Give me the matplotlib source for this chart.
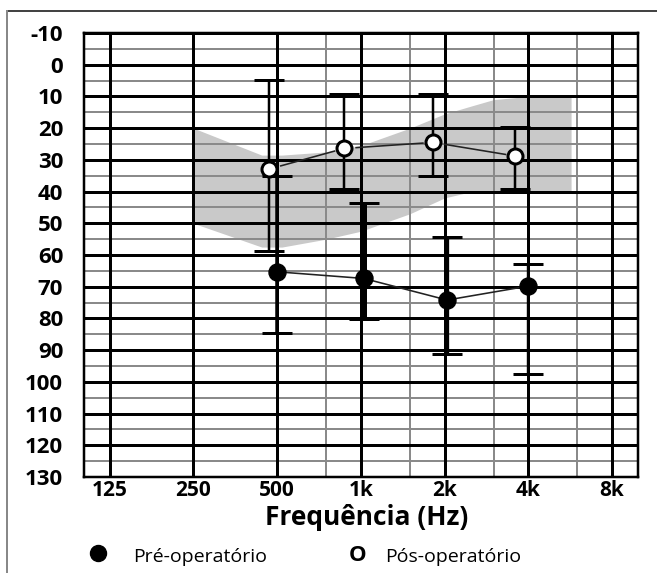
import numpy as np
import matplotlib.pyplot as plt
from matplotlib.lines import Line2D

freqs = [500, 1000, 2000, 4000]
pre_mean = [65.3, 67.4, 74.2, 69.8]
pre_top = [35.1, 43.6, 54.4, 62.9]
pre_bottom = [84.6, 80.3, 91.3, 97.6]
post_mean = [32.9, 26.4, 24.5, 28.8]
post_top = [4.8, 9.2, 9.2, 19.6]
post_bottom = [58.7, 39.2, 35.1, 39.2]

# faixa cinza
band_freq = [250, 440, 520, 750, 1000, 1500, 2000, 2500, 3000, 4000, 5700]
band_top = [20, 28.5, 28.5, 27.5, 25.5, 20, 15.5, 13, 11, 10, 10]
band_bottom = [50, 57.5, 57.5, 55, 52.5, 47, 42, 40, 40, 40, 40]

xtick_freqs = [125, 250, 500, 1000, 2000, 4000, 8000]
xtick_labels = ['125', '250', '500', '1k', '2k', '4k', '8k']
half_freqs = [750, 1500, 3000, 6000]
ytick_vals = list(range(-10, 131, 10))

# deslocamento horizontal (oitavas) para separar as series
pre_shift = [0.0, 0.035, 0.03, 0.0]
post_shift = [-0.095, -0.2, -0.14, -0.155]
pre_lw = [3.5, 5.0, 4.3, 2.4]

W, H = 657, 573
FONT = ['Open Sans', 'DejaVu Sans']
plt.rcParams['font.family'] = FONT

def px(v):
    return v * 0.72

def fx(x):
    return x / W

def fy(y):
    return 1 - y / H

def shorten(ax, xs, ys, gap):
    # segmentos entre marcadores, encurtados em pixels nas pontas
    pts = ax.transData.transform(np.column_stack([xs, ys]))
    segs = []
    for i in range(len(pts) - 1):
        a, b = pts[i], pts[i + 1]
        d = b - a
        u = d / np.hypot(*d)
        a2 = a + u * gap[0]
        b2 = b - u * gap[1]
        segs.append(ax.transData.inverted().transform(np.array([a2, b2])))
    return segs

fig = plt.figure(figsize=(W / 100, H / 100), dpi=100)
ax = fig.add_axes([fx(84), fy(477), fx(638 - 84), (477 - 33) / H])
ax.set_xscale('log', base=2)
ax.set_xlim(101, 9920)
ax.set_ylim(130, -10)

ax.fill_between(band_freq, band_top, band_bottom, color='#c9c9c9', lw=0, zorder=1)

for f in xtick_freqs:
    ax.axvline(f, color='black', lw=px(3), zorder=3)
for f in half_freqs:
    ax.axvline(f, color='#8a8a8a', lw=px(2), zorder=2)
for v in ytick_vals:
    ax.axhline(v, color='black', lw=px(3), zorder=3)
    if v < 130:
        ax.axhline(v + 5, color='#8a8a8a', lw=px(2), zorder=2)

pre_x = [f * 2 ** s for f, s in zip(freqs, pre_shift)]
post_x = [f * 2 ** s for f, s in zip(freqs, post_shift)]

for i in range(len(freqs)):
    ax.errorbar([post_x[i]], [post_mean[i]],
                yerr=[[post_mean[i] - post_top[i]], [post_bottom[i] - post_mean[i]]],
                fmt='none', ecolor='black', elinewidth=px(2.5), capsize=px(15),
                capthick=px(3), zorder=5)
    ax.errorbar([pre_x[i]], [pre_mean[i]],
                yerr=[[pre_mean[i] - pre_top[i]], [pre_bottom[i] - pre_mean[i]]],
                fmt='none', ecolor='black', elinewidth=px(pre_lw[i]), capsize=px(15),
                capthick=px(3), zorder=5)

fig.canvas.draw()
for seg in shorten(ax, post_x, post_mean, (12, 10)):
    ax.plot(seg[:, 0], seg[:, 1], color='#222222', lw=px(1.6), zorder=6)
for seg in shorten(ax, pre_x, pre_mean, (8, 8)):
    ax.plot(seg[:, 0], seg[:, 1], color='#222222', lw=px(1.6), zorder=6)

ax.plot(pre_x, pre_mean, 'o', ls='none', color='black', ms=px(17), zorder=7)
ax.plot(post_x, post_mean, 'o', ls='none', mfc='white', mec='black',
        mew=px(3), ms=px(15), zorder=7)

for s in ax.spines.values():
    s.set_linewidth(px(2.5))
    s.set_zorder(8)

ax.set_xticks(xtick_freqs)
ax.set_xticklabels(xtick_labels)
ax.xaxis.set_minor_locator(plt.NullLocator())
ax.set_yticks(ytick_vals)
ax.set_yticklabels([str(v) for v in ytick_vals])
ax.tick_params(axis='both', length=0)
ax.tick_params(axis='y', pad=15, labelsize=16)
ax.tick_params(axis='x', pad=2, labelsize=15)
for t in ax.get_xticklabels() + ax.get_yticklabels():
    t.set_fontweight('bold')

fig.text(fx(367), fy(525), 'Frequência (Hz)', ha='center', va='baseline',
         fontsize=19, fontweight='bold')

# legenda
fig.add_artist(Line2D([fx(98)], [fy(553)], marker='o', ms=px(16), color='black',
                      transform=fig.transFigure))
fig.text(fx(133), fy(562), 'Pré-operatório', ha='left', va='baseline', fontsize=14)
fig.text(fx(358), fy(561), 'O', ha='center', va='baseline', fontsize=16, fontweight='bold')
fig.text(fx(385), fy(562), 'Pós-operatório', ha='left', va='baseline', fontsize=14)

# moldura
fig.add_artist(Line2D([fx(7), fx(657)], [fy(11), fy(11)], color='#444444', lw=px(2),
                      transform=fig.transFigure))
fig.add_artist(Line2D([fx(7), fx(7)], [fy(11), fy(573)], color='#888888', lw=px(2),
                      transform=fig.transFigure))

fig.savefig('out.png', dpi=100)
